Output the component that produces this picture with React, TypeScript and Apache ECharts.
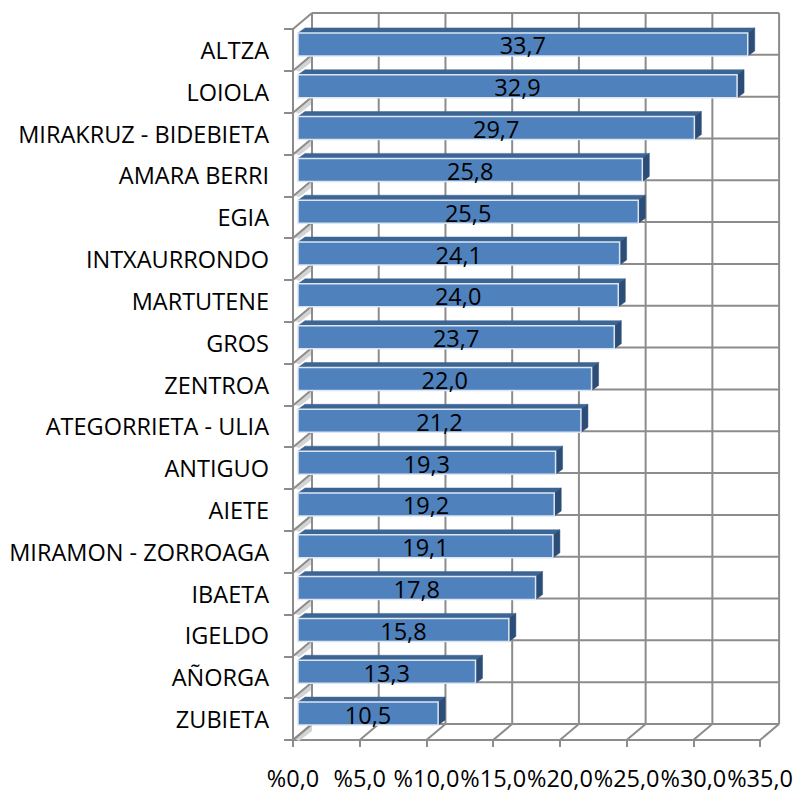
import React, { useEffect, useRef } from "react";
import * as echarts from "echarts";

const categories = [
  "ALTZA",
  "LOIOLA",
  "MIRAKRUZ - BIDEBIETA",
  "AMARA BERRI",
  "EGIA",
  "INTXAURRONDO",
  "MARTUTENE",
  "GROS",
  "ZENTROA",
  "ATEGORRIETA - ULIA",
  "ANTIGUO",
  "AIETE",
  "MIRAMON - ZORROAGA",
  "IBAETA",
  "IGELDO",
  "AÑORGA",
  "ZUBIETA",
];
const values = [33.7, 32.9, 29.7, 25.8, 25.5, 24.1, 24.0, 23.7, 22.0, 21.2, 19.3, 19.2, 19.1, 17.8, 15.8, 13.3, 10.5];
const xTicks = [0, 5, 10, 15, 20, 25, 30, 35];

const FONT = '"Open Sans", "Noto Sans", sans-serif';
const GRID_COLOR = "#8c8c8c";
const WALL_DX = 19;
const WALL_DY = -16;
const BAR_DX = 7;
const BAR_DY = -5;
const FS = 23.5;

const fmt = (v: number) => v.toFixed(1).replace(".", ",");

export default function App() {
  const ref = useRef<HTMLDivElement>(null);
  useEffect(() => {
    if (!ref.current) return;
    const chart = echarts.init(ref.current, null, { renderer: "svg" });
    const n = categories.length;
    const xMax = xTicks[xTicks.length - 1];

    const renderWalls = (params: any, api: any) => {
      const band = api.size([0, 1])[1];
      const c0 = api.coord([0, 0]);
      const top = c0[1] - band / 2;
      const bottom = top + n * band;
      const left = c0[0];
      const right = api.coord([xMax, 0])[0];
      const children: any[] = [];
      const ls = { stroke: GRID_COLOR, lineWidth: 2 };
      // side wall light shading wedges
      for (let i = 1; i <= n; i++) {
        const y = top + i * band;
        children.push({
          type: "polygon",
          shape: {
            points: [
              [left + 2, y - 1],
              [left + WALL_DX, y + WALL_DY],
              [left + WALL_DX, y + WALL_DY + 7],
              [left + 6, y + 1],
            ],
          },
          style: { fill: "#d4d4d4" },
        });
      }
      // back wall verticals + floor diagonals
      xTicks.forEach((t) => {
        const x = api.coord([t, 0])[0];
        children.push({
          type: "line",
          shape: { x1: x + WALL_DX, y1: top + WALL_DY, x2: x + WALL_DX, y2: bottom + WALL_DY },
          style: ls,
        });
        children.push({
          type: "line",
          shape: { x1: x, y1: bottom, x2: x + WALL_DX, y2: bottom + WALL_DY },
          style: ls,
        });
      });
      for (let i = 0; i <= n; i++) {
        const y = top + i * band;
        // back wall horizontals
        children.push({
          type: "line",
          shape: { x1: left + WALL_DX, y1: y + WALL_DY, x2: right + WALL_DX, y2: y + WALL_DY },
          style: ls,
        });
        // side wall diagonals
        children.push({
          type: "line",
          shape: { x1: left, y1: y, x2: left + WALL_DX, y2: y + WALL_DY },
          style: ls,
        });
      }
      return { type: "group", children };
    };

    const renderBars = (params: any, api: any) => {
      const v = api.value(0);
      const i = api.value(1);
      const p0 = api.coord([0, i]);
      const p1 = api.coord([v, i]);
      const x0 = p0[0] + 5;
      const x1 = p1[0] + 5;
      const yc = p0[1];
      const yT = yc - 17;
      const yB = yc + 6;
      return {
        type: "group",
        children: [
          {
            type: "polygon",
            shape: {
              points: [
                [x0, yT],
                [x1, yT],
                [x1 + BAR_DX, yT + BAR_DY],
                [x0 + BAR_DX, yT + BAR_DY],
              ],
            },
            style: { fill: "#3d6594", stroke: "#3d6594", lineWidth: 0.5 },
          },
          {
            type: "polygon",
            shape: {
              points: [
                [x1, yT],
                [x1 + BAR_DX, yT + BAR_DY],
                [x1 + BAR_DX, yB + BAR_DY],
                [x1, yB],
              ],
            },
            style: { fill: "#2c4d77", stroke: "#2c4d77", lineWidth: 0.5 },
          },
          {
            type: "rect",
            shape: { x: x0, y: yT, width: x1 - x0, height: yB - yT },
            style: { fill: "#4f81bd", stroke: "#dce6f2", lineWidth: 1.5 },
          },
          {
            type: "text",
            style: {
              text: fmt(v),
              x: (x0 + x1) / 2,
              y: (yT + yB) / 2 + 1,
              align: "center",
              verticalAlign: "middle",
              fill: "#000000",
              fontSize: FS,
              fontFamily: FONT,
            },
          },
        ],
      };
    };

    chart.setOption({
      animation: false,
      backgroundColor: "#ffffff",
      textStyle: { fontFamily: FONT },
      grid: { left: 293, top: 29, width: 470, height: 711, containLabel: false },
      xAxis: {
        type: "value",
        min: 0,
        max: xMax,
        interval: 5,
        axisLine: { show: true, lineStyle: { color: GRID_COLOR, width: 2 } },
        axisTick: { show: true, length: 7, lineStyle: { color: GRID_COLOR, width: 2 } },
        splitLine: { show: false },
        axisLabel: {
          formatter: (v: number) => "%" + fmt(v),
          fontSize: FS,
          color: "#000000",
          fontFamily: FONT,
          margin: 26,
        },
      },
      yAxis: {
        type: "category",
        inverse: true,
        data: categories,
        axisLine: { show: true, lineStyle: { color: GRID_COLOR, width: 2 } },
        axisTick: { show: true, length: 9, lineStyle: { color: GRID_COLOR, width: 2 } },
        splitLine: { show: false },
        axisLabel: { fontSize: FS, color: "#000000", fontFamily: FONT, margin: 24 },
      },
      series: [
        {
          type: "custom",
          name: "walls",
          z: 1,
          silent: true,
          encode: { x: 0, y: 1 },
          data: [[0, 0]],
          renderItem: renderWalls,
        },
        {
          type: "custom",
          name: "bars",
          z: 2,
          encode: { x: 0, y: 1 },
          data: values.map((v, i) => [v, i]),
          renderItem: renderBars,
        },
      ],
    });
    return () => chart.dispose();
  }, []);
  return (
    <div
      ref={ref}
      style={{ position: "fixed", left: 0, top: 0, width: 796, height: 794, background: "#fff" }}
    />
  );
}
